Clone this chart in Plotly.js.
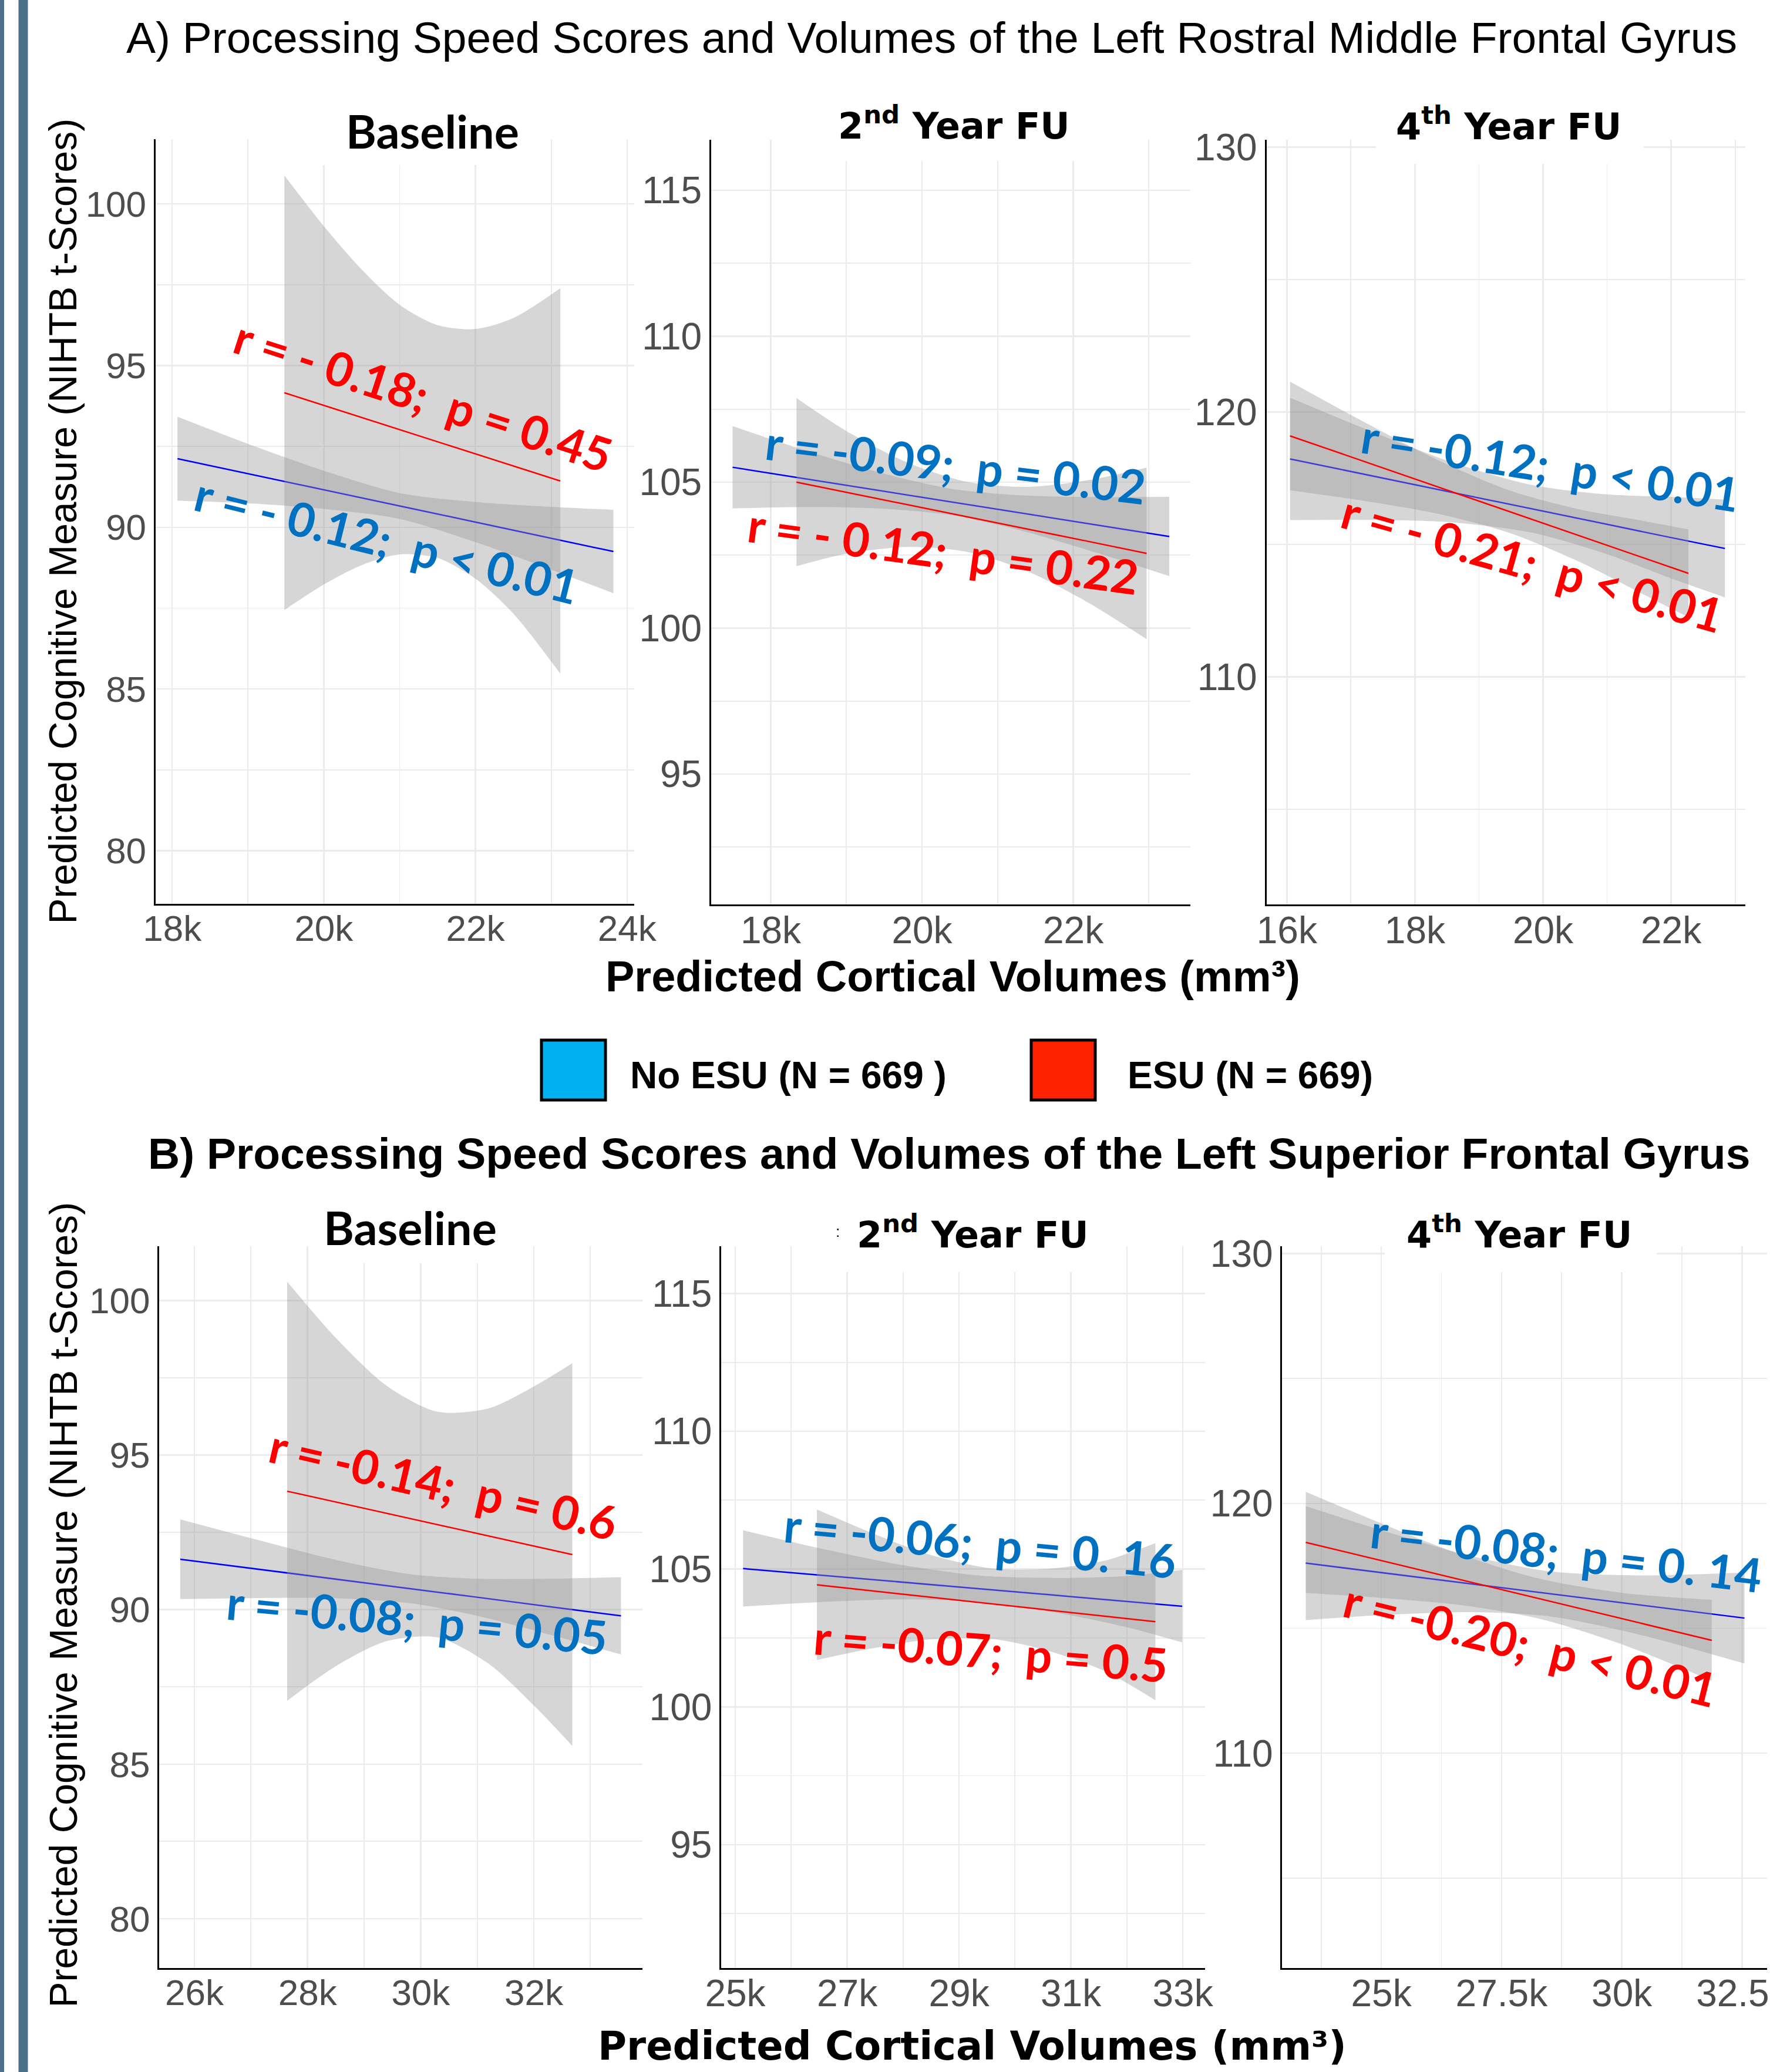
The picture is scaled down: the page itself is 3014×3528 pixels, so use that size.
<!DOCTYPE html>
<html><head><meta charset="utf-8">
<script src="https://cdn.plot.ly/plotly-3.0.1.min.js"></script>
<style>html,body{margin:0;padding:0;background:#fff}#chart{width:3014px;height:3528px}</style>
</head><body><div id="chart"></div>
<script>
// ================= DATA (volume in mm³, predicted NIHTB t-score) =================
// ---- A) Left Rostral Middle Frontal Gyrus ----
// Baseline
const aBaseNoX   = [18070, 19000, 20000, 21000, 22000, 23000, 23820];
const aBaseNoFit = [92.12, 91.66, 91.16, 90.66, 90.16, 89.66, 89.25];
const aBaseNoHi  = [93.42, 92.58, 91.75, 91.06, 90.78, 90.63, 90.54];
const aBaseNoLo  = [90.82, 90.74, 90.57, 90.26, 89.54, 88.69, 87.96];
const aBaseEsX   = [19480, 20000, 20500, 21000, 21500, 22000, 22500, 23120];
const aBaseEsFit = [94.16, 93.77, 93.40, 93.02, 92.65, 92.27, 91.90, 91.43];
const aBaseEsHi  = [100.88, 99.31, 97.97, 96.88, 96.25, 96.13, 96.47, 97.39];
const aBaseEsLo  = [87.44, 88.23, 88.83, 89.16, 89.05, 88.41, 87.33, 85.47];
// 2nd year follow-up
const aY2NoX   = [17495, 18500, 19500, 20400, 21300, 22300, 23270];
const aY2NoFit = [105.51, 105.10, 104.69, 104.32, 103.95, 103.54, 103.14];
const aY2NoHi  = [106.92, 106.05, 105.29, 104.77, 104.55, 104.49, 104.50];
const aY2NoLo  = [104.10, 104.15, 104.09, 103.87, 103.35, 102.59, 101.78];
const aY2EsX   = [18340, 19000, 19800, 20600, 21400, 22200, 22970];
const aY2EsFit = [105.00, 104.65, 104.23, 103.81, 103.39, 102.97, 102.56];
const aY2EsHi  = [107.88, 106.75, 105.68, 105.01, 104.84, 105.07, 105.50];
const aY2EsLo  = [102.12, 102.55, 102.78, 102.61, 101.94, 100.87, 99.62];
// 4th year follow-up
const aY4NoX   = [16050, 17200, 18500, 19800, 21000, 22000, 22840];
const aY4NoFit = [118.23, 117.66, 117.01, 116.36, 115.76, 115.26, 114.85];
const aY4NoHi  = [120.54, 119.39, 118.17, 117.26, 116.89, 116.80, 116.70];
const aY4NoLo  = [115.92, 115.93, 115.85, 115.46, 114.63, 113.72, 113.00];
const aY4EsX   = [16050, 17200, 18400, 19500, 20600, 21500, 22270];
const aY4EsFit = [119.10, 118.14, 117.14, 116.22, 115.31, 114.56, 113.91];
const aY4EsHi  = [121.15, 119.63, 118.14, 117.02, 116.31, 115.92, 115.57];
const aY4EsLo  = [117.05, 116.65, 116.14, 115.42, 114.31, 113.20, 112.25];
// ---- B) Left Superior Frontal Gyrus ----
const bBaseNoX   = [25750, 27000, 28500, 29800, 31000, 32300, 33540];
const bBaseNoFit = [91.63, 91.34, 90.99, 90.68, 90.40, 90.09, 89.80];
const bBaseNoHi  = [92.92, 92.31, 91.61, 91.15, 91.00, 91.00, 91.05];
const bBaseNoLo  = [90.34, 90.37, 90.37, 90.21, 89.80, 89.18, 88.55];
const bBaseEsX   = [27640, 28500, 29400, 30300, 31200, 32000, 32680];
const bBaseEsFit = [93.83, 93.48, 93.11, 92.75, 92.38, 92.06, 91.78];
const bBaseEsHi  = [100.61, 98.79, 97.24, 96.40, 96.51, 97.22, 97.97];
const bBaseEsLo  = [87.05, 88.17, 88.98, 89.10, 88.25, 86.90, 85.59];
const bY2NoX   = [25140, 26500, 28000, 29400, 30900, 32000, 32990];
const bY2NoFit = [105.02, 104.78, 104.52, 104.28, 104.02, 103.82, 103.65];
const bY2NoHi  = [106.41, 105.76, 105.14, 104.76, 104.68, 104.75, 104.97];
const bY2NoLo  = [103.64, 103.80, 103.90, 103.80, 103.36, 102.89, 102.34];
const bY2EsX   = [26460, 27500, 28500, 29600, 30600, 31600, 32510];
const bY2EsFit = [104.43, 104.20, 103.98, 103.74, 103.52, 103.30, 103.09];
const bY2EsHi  = [107.16, 106.26, 105.51, 105.02, 105.01, 105.30, 105.94];
const bY2EsLo  = [101.70, 102.14, 102.45, 102.46, 102.03, 101.30, 100.24];
const bY4NoX   = [23430, 25000, 26800, 28500, 30300, 32550];
const bY4NoFit = [117.61, 117.23, 116.79, 116.38, 115.95, 115.41];
const bY4NoHi  = [119.89, 118.93, 117.93, 117.28, 117.12, 117.23];
const bY4NoLo  = [115.33, 115.53, 115.65, 115.48, 114.78, 113.59];
const bY4EsX   = [23430, 25000, 26700, 28300, 30000, 31870];
const bY4EsFit = [118.44, 117.71, 116.92, 116.18, 115.39, 114.52];
const bY4EsHi  = [120.46, 119.20, 117.92, 116.98, 116.42, 116.14];
const bY4EsLo  = [116.42, 116.22, 115.92, 115.38, 114.36, 112.90];

// ---- tick values / labels ----
const aBaseXTicks = [18000, 20000, 22000, 24000]; const aBaseXLabels = ['18k','20k','22k','24k'];
const aY2XTicks   = [18000, 20000, 22000];        const aY2XLabels   = ['18k','20k','22k'];
const aY4XTicks   = [16000, 18000, 20000, 22000]; const aY4XLabels   = ['16k','18k','20k','22k'];
const bBaseXTicks = [26000, 28000, 30000, 32000]; const bBaseXLabels = ['26k','28k','30k','32k'];
const bY2XTicks   = [25000, 27000, 29000, 31000, 33000]; const bY2XLabels = ['25k','27k','29k','31k','33k'];
const bY4XTicks   = [25000, 27500, 30000, 32500]; const bY4XLabels   = ['25k','27.5k','30k','32.5k'];
const baseYTicks  = [80, 85, 90, 95, 100];
const y2YTicks    = [95, 100, 105, 110, 115];
const y4YTicks    = [110, 120, 130];

// ---- text ----
const titleA = 'A) Processing Speed Scores and Volumes of the Left Rostral Middle Frontal Gyrus';
const titleB = 'B) Processing Speed Scores and Volumes of the Left Superior Frontal Gyrus';
const xTitle = 'Predicted Cortical Volumes (mm\u00b3)';
const yTitle = 'Predicted Cognitive Measure (NIHTB t-Scores)';
const panelTitles = ['Baseline', '2<sup>nd</sup> Year FU', '4<sup>th</sup> Year FU'];
const legendLabels = ['No ESU (N = 669 )', 'ESU (N = 669)'];
const statLabels = [
  ['r = - 0.18;\u00a0 p = 0.45', 'r = - 0.12;\u00a0 p &lt; 0.01'],
  ['r = - 0.12;\u00a0 p = 0.22', 'r = -0.09;\u00a0 p = 0.02'],
  ['r = - 0.21;\u00a0 p &lt; 0.01', 'r = -0.12;\u00a0 p &lt; 0.01'],
  ['r = -0.14;\u00a0 p = 0.6', 'r = -0.08;\u00a0 p = 0.05'],
  ['r = -0.07;\u00a0 p = 0.5', 'r = -0.06;\u00a0 p = 0. 16'],
  ['r = -0.20;\u00a0 p &lt; 0.01', 'r = -0.08;\u00a0 p = 0. 14']
];

// ================= LAYOUT HELPERS =================
const W = 3014, H = 3528;
const PX = v => v / W, PY = v => 1 - v / H;
const BLUE_LINE = '#0000ff', RED_LINE = '#ff0000';
const BLUE_TXT = '#0070c0', RED_TXT = '#ff0000';
const BAND = 'rgba(153,153,153,0.4)';
const F_ARIAL = 'Liberation Sans, Arial, sans-serif';
const F_CAL = 'Lato, Carlito, sans-serif';
const F_WIDE = 'DejaVu Sans, Verdana, sans-serif';
const GRID = '#ebebeb';

const panels = [
  {px:[264.5,1079.5], py:[237,1539], xr:[17778,24091], yr:[78.355,102.0], xt:aBaseXTicks, xl:aBaseXLabels, yt:baseYTicks, xm:[17000,2000], ym:[77.5,5], fs:62,
   groups:[[aBaseNoX,aBaseNoFit,aBaseNoLo,aBaseNoHi],[aBaseEsX,aBaseEsFit,aBaseEsLo,aBaseEsHi]]},
  {px:[1211,2027], py:[238,1540], xr:[17212,23549], yr:[90.533,116.73], xt:aY2XTicks, xl:aY2XLabels, yt:y2YTicks, xm:[17000,2000], ym:[92.5,5], fs:64,
   groups:[[aY2NoX,aY2NoFit,aY2NoLo,aY2NoHi],[aY2EsX,aY2EsFit,aY2EsLo,aY2EsHi]]},
  {px:[2156.5,2972], py:[238,1540], xr:[15681,23159], yr:[101.41,130.28], xt:aY4XTicks, xl:aY4XLabels, yt:y4YTicks, xm:[17000,2000], ym:[105,10], fs:64,
   groups:[[aY4NoX,aY4NoFit,aY4NoLo,aY4NoHi],[aY4EsX,aY4EsFit,aY4EsLo,aY4EsHi]]},
  {px:[270.8,1094], py:[2121.8,3350.6], xr:[25375,33920], yr:[78.41,101.76], xt:bBaseXTicks, xl:bBaseXLabels, yt:baseYTicks, xm:[25000,2000], ym:[77.5,5], fs:62,
   groups:[[bBaseNoX,bBaseNoFit,bBaseNoLo,bBaseNoHi],[bBaseEsX,bBaseEsFit,bBaseEsLo,bBaseEsHi]]},
  {px:[1228.2,2052.2], py:[2121.8,3350.6], xr:[24750,33400], yr:[90.53,116.72], xt:bY2XTicks, xl:bY2XLabels, yt:y2YTicks, xm:[26000,2000], ym:[92.5,5], fs:64,
   groups:[[bY2NoX,bY2NoFit,bY2NoLo,bY2NoHi],[bY2EsX,bY2EsFit,bY2EsLo,bY2EsHi]]},
  {px:[2183.4,3009], py:[2121.8,3350.6], xr:[22940,33020], yr:[101.41,130.30], xt:bY4XTicks, xl:bY4XLabels, yt:y4YTicks, xm:[23750,2500], ym:[105,10], fs:64,
   groups:[[bY4NoX,bY4NoFit,bY4NoLo,bY4NoHi],[bY4EsX,bY4EsFit,bY4EsLo,bY4EsHi]]}
];

const traces = [];
const layout = {
  width: W, height: H, margin: {l:0, r:0, t:0, b:0},
  paper_bgcolor: '#ffffff', plot_bgcolor: 'rgba(0,0,0,0)',
  showlegend: false, hovermode: false,
  shapes: [], annotations: []
};

panels.forEach((p, i) => {
  const n = i + 1;
  const xa = n === 1 ? 'x' : 'x' + n, ya = n === 1 ? 'y' : 'y' + n;
  const tickfont = {family: F_ARIAL, size: p.fs, color: '#4d4d4d'};
  layout[n === 1 ? 'xaxis' : 'xaxis' + n] = {
    domain: [PX(p.px[0]), PX(p.px[1])], range: p.xr, anchor: ya,
    tickmode: 'array', tickvals: p.xt, ticktext: p.xl, ticks: '', tickfont,
    ticklabelstandoff: -14, ticklabeloverflow: 'allow',
    showgrid: true, gridcolor: GRID, gridwidth: 2.5, zeroline: false,
    minor: {tickmode: 'linear', tick0: p.xm[0], dtick: p.xm[1], showgrid: true, gridcolor: GRID, gridwidth: 1.8, ticks: ''},
    showline: true, linecolor: '#000000', linewidth: 3, fixedrange: true
  };
  layout[n === 1 ? 'yaxis' : 'yaxis' + n] = {
    domain: [PY(p.py[1]), PY(p.py[0])], range: p.yr, anchor: xa,
    tickmode: 'array', tickvals: p.yt, ticktext: p.yt.map(String), ticks: '', tickfont,
    ticklabelstandoff: 0,
    showgrid: true, gridcolor: GRID, gridwidth: 2.5, zeroline: false,
    minor: {tickmode: 'linear', tick0: p.ym[0], dtick: p.ym[1], showgrid: true, gridcolor: GRID, gridwidth: 1.8, ticks: ''},
    showline: true, linecolor: '#000000', linewidth: 3, fixedrange: true
  };
  p.groups.forEach((g, gi) => {
    const [gx, fit, lo, hi] = g;
    const col = gi === 0 ? BLUE_LINE : RED_LINE;
    traces.push({x: gx, y: lo, xaxis: xa, yaxis: ya, mode: 'lines', line: {width: 0, shape: 'spline', smoothing: 0.8}, hoverinfo: 'skip'});
    traces.push({x: gx, y: hi, xaxis: xa, yaxis: ya, mode: 'lines', fill: 'tonexty', fillcolor: BAND, line: {width: 0, shape: 'spline', smoothing: 0.8}, hoverinfo: 'skip'});
    traces.push({x: gx, y: fit, xaxis: xa, yaxis: ya, mode: 'lines', line: {color: col, width: 2.5}, hoverinfo: 'skip'});
  });
});

// ---- decorative left bars ----
layout.shapes.push({type:'rect', xref:'paper', yref:'paper', x0:0, x1:PX(7), y0:0, y1:1, fillcolor:'#4b7189', line:{width:0}, layer:'above'});
layout.shapes.push({type:'rect', xref:'paper', yref:'paper', x0:PX(31.5), x1:PX(47.5), y0:0, y1:1, fillcolor:'#4b7189', line:{width:0}, layer:'above'});
// ---- white boxes behind panel titles ----
[[545,905,150,281],[1430,1845,150,274],[2343,2799,150,279],[540,855,2030,2151],[1400,1870,2030,2166],[2358,2821,2030,2166]].forEach(b => {
  layout.shapes.push({type:'rect', xref:'paper', yref:'paper', x0:PX(b[0]), x1:PX(b[1]), y0:PY(b[3]), y1:PY(b[2]), fillcolor:'#ffffff', line:{width:0}, layer:'above'});
});
// ---- legend keys ----
layout.shapes.push({type:'rect', xref:'paper', yref:'paper', x0:PX(922), x1:PX(1031), y0:PY(1873), y1:PY(1771), fillcolor:'#00b0f0', line:{color:'#000000', width:5}, layer:'above'});
layout.shapes.push({type:'rect', xref:'paper', yref:'paper', x0:PX(1756), x1:PX(1865), y0:PY(1873), y1:PY(1771), fillcolor:'#ff2200', line:{color:'#000000', width:5}, layer:'above'});

function ann(text, x, y, font, extra) {
  layout.annotations.push(Object.assign({text, xref:'paper', yref:'paper', x:PX(x), y:PY(y), xanchor:'center', yanchor:'middle', showarrow:false, font}, extra || {}));
}
// titles
ann(titleA, 1586, 64, {family:F_ARIAL, size:75, color:'#000000'});
ann(titleB, 1616, 1964, {family:F_ARIAL, size:75, color:'#000000', weight:700});
ann(xTitle, 1622, 1662, {family:F_ARIAL, size:74, color:'#000000', weight:700});
ann(xTitle, 1655.5, 3484, {family:F_WIDE, size:67, color:'#000000', weight:700});
ann(yTitle, 107, 887.5, {family:F_ARIAL, size:66, color:'#000000'}, {textangle:-90});
ann(yTitle, 107, 2732.5, {family:F_ARIAL, size:66, color:'#000000'}, {textangle:-90});
// panel titles
ann(panelTitles[0], 736, 222, {family:F_CAL, size:79, color:'#000000', weight:700});
ann(panelTitles[1], 1624, 210, {family:F_WIDE, size:62, color:'#000000', weight:700});
ann(panelTitles[2], 2569, 212, {family:F_WIDE, size:62, color:'#000000', weight:700});
ann(panelTitles[0], 698, 2089, {family:F_CAL, size:79, color:'#000000', weight:700});
ann(panelTitles[1], 1656.5, 2098, {family:F_WIDE, size:62, color:'#000000', weight:700});
ann(panelTitles[2], 2587, 2098, {family:F_WIDE, size:62, color:'#000000', weight:700});
ann(':', 1426, 2097, {family:F_ARIAL, size:26, color:'#000000'});
// legend text
ann(legendLabels[0], 1071, 1831, {family:F_ARIAL, size:64, color:'#000000', weight:700}, {xanchor:'left'});
ann(legendLabels[1], 1918, 1831, {family:F_ARIAL, size:64, color:'#000000', weight:700}, {xanchor:'left'});
// statistics labels  [red, blue] per panel : position (px) and angle
const statPos = [
  [[720.8, 672.8, 18], [659, 918.8, 14]],
  [[1606, 937, 7.8], [1627, 790, 6.8]],
  [[2609.5, 958, 15.7], [2640, 791, 9]],
  [[755, 2526, 12.9], [710.6, 2757, 5.4]],
  [[1687, 2810, 4.6], [1668.6, 2626, 5.35]],
  [[2606.9, 2800, 13.9], [2666.7, 2643, 6.6]]
];
statPos.forEach((pp, i) => {
  ann(statLabels[i][0], pp[0][0], pp[0][1], {family:F_CAL, size:80, color:RED_TXT, weight:700}, {textangle: pp[0][2]});
  ann(statLabels[i][1], pp[1][0], pp[1][1], {family:F_CAL, size:80, color:BLUE_TXT, weight:700}, {textangle: pp[1][2]});
});

Plotly.newPlot('chart', traces, layout, {staticPlot: true, displayModeBar: false});
</script></body></html>
